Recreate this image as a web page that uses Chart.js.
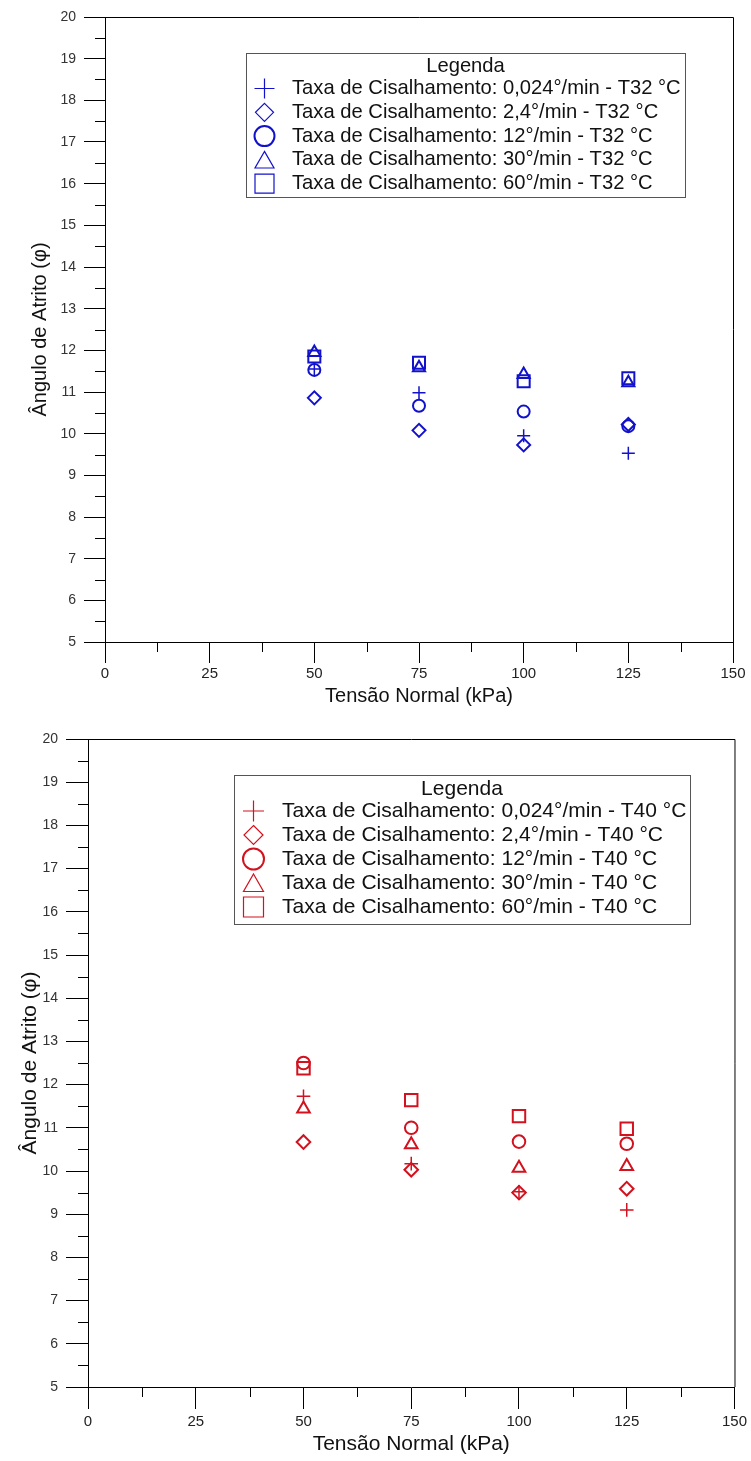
<!DOCTYPE html>
<html><head><meta charset="utf-8">
<script src="https://cdn.jsdelivr.net/npm/chart.js@4/dist/chart.umd.min.js"></script>
<style>
html,body{margin:0;padding:0;background:#fff;width:751px;height:1461px;overflow:hidden}
canvas{position:absolute;left:0}
</style></head><body>
<canvas id="c1" width="751" height="712" style="top:0"></canvas>
<canvas id="c2" width="751" height="749" style="top:712px"></canvas>
<script>
// ---- data ----
const normalStress = [50, 75, 100, 125];
const xTickValues = [0, 25, 50, 75, 100, 125, 150];
const yTickValues = [5, 6, 7, 8, 9, 10, 11, 12, 13, 14, 15, 16, 17, 18, 19, 20];
const rateLabels = ['0,024°/min', '2,4°/min', '12°/min', '30°/min', '60°/min'];
const markerStyles = ['cross', 'rectRot', 'circle', 'triangle', 'rect'];

const t32_rate0024 = [11.55, 10.98, 9.95, 9.53];
const t32_rate24   = [10.86, 10.08, 9.73, 10.22];
const t32_rate12   = [11.53, 10.67, 10.53, 10.18];
const t32_rate30   = [11.95, 11.58, 11.42, 11.22];
const t32_rate60   = [11.85, 11.70, 11.26, 11.33];

const t40_rate0024 = [11.73, 10.17, 9.52, 9.10];
const t40_rate24   = [10.67, 10.03, 9.50, 9.59];
const t40_rate12   = [12.50, 11.00, 10.68, 10.63];
const t40_rate30   = [11.44, 10.61, 10.07, 10.11];
const t40_rate60   = [12.38, 11.64, 11.27, 10.98];

const xTitle = 'Tensão Normal (kPa)';
const yTitle = 'Ângulo de Atrito (φ)';
const legendTitle = 'Legenda';

// ---- helpers ----
function drawMarker(ctx, style, x, y, s, color, lw) {
  ctx.save();
  ctx.strokeStyle = color; ctx.lineWidth = lw;
  ctx.beginPath();
  if (style === 'cross') {
    ctx.moveTo(x - s, y); ctx.lineTo(x + s, y);
    ctx.moveTo(x, y - s); ctx.lineTo(x, y + s);
  } else if (style === 'rectRot') {
    ctx.moveTo(x, y - s); ctx.lineTo(x + s, y); ctx.lineTo(x, y + s); ctx.lineTo(x - s, y); ctx.closePath();
  } else if (style === 'circle') {
    ctx.arc(x, y, s, 0, Math.PI * 2);
  } else if (style === 'triangle') {
    ctx.moveTo(x, y - s * 0.9); ctx.lineTo(x + s, y + s * 0.85); ctx.lineTo(x - s, y + s * 0.85); ctx.closePath();
  } else {
    ctx.rect(x - s, y - s, 2 * s, 2 * s);
  }
  ctx.stroke();
  ctx.restore();
}

const framePlugin = {
  id: 'frame',
  afterDraw(chart) {
    const ctx = chart.ctx, a = chart.chartArea;
    const xs = chart.scales.x, ys = chart.scales.y;
    ctx.save();
    ctx.strokeStyle = '#000'; ctx.lineWidth = 1;
    ctx.beginPath();
    ctx.moveTo(a.left, a.top + 0.5); ctx.lineTo(a.right + 0.5, a.top + 0.5);
    ctx.lineTo(a.right + 0.5, a.bottom);
    // minor ticks
    for (let i = 0; i < xTickValues.length - 1; i++) {
      const v = (xTickValues[i] + xTickValues[i + 1]) / 2;
      const px = Math.round(xs.getPixelForValue(v)) + 0.5;
      ctx.moveTo(px, a.bottom); ctx.lineTo(px, a.bottom + 10);
    }
    for (let i = 0; i < yTickValues.length - 1; i++) {
      const v = (yTickValues[i] + yTickValues[i + 1]) / 2;
      const py = Math.round(ys.getPixelForValue(v)) + 0.5;
      ctx.moveTo(a.left, py); ctx.lineTo(a.left - 10, py);
    }
    ctx.stroke();
    ctx.restore();
  }
};

const boxLegendPlugin = {
  id: 'boxLegend',
  afterDraw(chart, args, o) {
    const ctx = chart.ctx;
    ctx.save();
    ctx.fillStyle = '#fff';
    ctx.fillRect(o.x0, o.y0, o.x1 - o.x0, o.y1 - o.y0);
    ctx.strokeStyle = '#555'; ctx.lineWidth = 1;
    ctx.strokeRect(Math.round(o.x0) + 0.5, Math.round(o.y0) + 0.5, Math.round(o.x1 - o.x0), Math.round(o.y1 - o.y0));
    ctx.fillStyle = '#111';
    ctx.font = o.fontSize + 'px "Liberation Sans", Arial, sans-serif';
    ctx.textBaseline = 'middle';
    ctx.textAlign = 'center';
    ctx.fillText(legendTitle, (o.x0 + o.x1) / 2, o.titleY);
    ctx.textAlign = 'left';
    chart.data.datasets.forEach((ds, i) => {
      const y = o.rowY + i * o.rowGap;
      const st = ds.pointStyle;
      const sz = o.markerSize[i];
      drawMarker(ctx, st, o.markerX, y, sz, ds.borderColor, st === 'circle' ? 2 : 1.2);
      ctx.fillStyle = '#111';
      ctx.fillText(ds.label, o.textX, y);
    });
    ctx.restore();
  }
};

function makeChart(id, color, tempLabel, series, g) {
  const datasets = series.map((vals, i) => ({
    label: 'Taxa de Cisalhamento: ' + rateLabels[i] + ' - ' + tempLabel,
    data: normalStress.map((x, j) => ({ x: x, y: vals[j] })),
    pointStyle: markerStyles[i],
    pointRadius: g.pr[i],
    pointBorderWidth: markerStyles[i] === 'cross' ? 1.5 : 2,
    borderColor: color,
    backgroundColor: 'rgba(0,0,0,0)',
    pointBackgroundColor: 'rgba(0,0,0,0)',
    showLine: false
  }));
  return new Chart(document.getElementById(id), {
    type: 'scatter',
    data: { datasets },
    options: {
      responsive: false, animation: false, devicePixelRatio: 1,
      events: [],
      layout: { padding: { left: 0, top: g.top, right: g.right, bottom: 0 } },
      plugins: {
        legend: { display: false }, tooltip: { enabled: false },
        boxLegend: g.legend
      },
      scales: {
        x: {
          type: 'linear', min: 0, max: 150,
          afterBuildTicks: s => { s.ticks = xTickValues.map(v => ({ value: v })); },
          afterFit: s => { s.height = g.xh; },
          grid: { display: true, drawOnChartArea: false, drawTicks: true, tickLength: g.tl, color: '#000', lineWidth: 1 },
          border: { display: true, color: '#000', width: 1 },
          ticks: { color: '#222', padding: g.xpad, maxRotation: 0, autoSkip: false,
            font: { family: '"Liberation Sans Narrow", "Arial Narrow", "Liberation Sans", Arial', size: g.xfs } },
          title: { display: true, text: xTitle, color: '#111',
            font: { family: '"Liberation Sans", Arial', size: g.tfs }, padding: { top: 0, bottom: g.xtpad } }
        },
        y: {
          type: 'linear', min: 5, max: 20,
          afterBuildTicks: s => { s.ticks = yTickValues.map(v => ({ value: v })); },
          afterFit: s => { s.width = g.left; },
          grid: { display: true, drawOnChartArea: false, drawTicks: true, tickLength: g.tl, color: '#000', lineWidth: 1 },
          border: { display: true, color: '#000', width: 1 },
          ticks: { color: '#333', padding: g.ypad, autoSkip: false,
            font: { family: '"Liberation Sans", Arial', size: g.yfs } },
          title: { display: true, text: yTitle, color: '#111',
            font: { family: '"Liberation Sans", Arial', size: g.tfs }, padding: { top: g.ytpad, bottom: 0 } }
        }
      }
    },
    plugins: [framePlugin, boxLegendPlugin]
  });
}

makeChart('c1', '#1212cc', 'T32 °C',
  [t32_rate0024, t32_rate24, t32_rate12, t32_rate30, t32_rate60],
  { top: 17, right: 18, left: 105, xh: 70, tl: 21, xpad: 2, ypad: 8, xfs: 15, yfs: 14, tfs: 20, xtpad: 4, ytpad: 28,
    pr: [6.5, 6.5, 6, 7, 8.5],
    legend: { x0: 246, y0: 53, x1: 685, y1: 197, titleY: 66, rowY: 88.5, rowGap: 23.8, markerX: 264.5, textX: 292,
      fontSize: 20.2, markerSize: [10, 9, 10, 9.5, 9.5] } });

makeChart('c2', '#d2121e', 'T40 °C',
  [t40_rate0024, t40_rate24, t40_rate12, t40_rate30, t40_rate60],
  { top: 27, right: 10, left: 88, xh: 74, tl: 22, xpad: 4, ypad: 8, xfs: 15, yfs: 14, tfs: 21, xtpad: 4, ytpad: 18,
    pr: [6.8, 6.8, 6.3, 7.3, 8.8],
    legend: { x0: 234, y0: 63, x1: 690, y1: 212, titleY: 77, rowY: 99, rowGap: 24, markerX: 253.5, textX: 282,
      fontSize: 21, markerSize: [10.5, 9.5, 10.5, 10, 10] } });
</script>
</body></html>
